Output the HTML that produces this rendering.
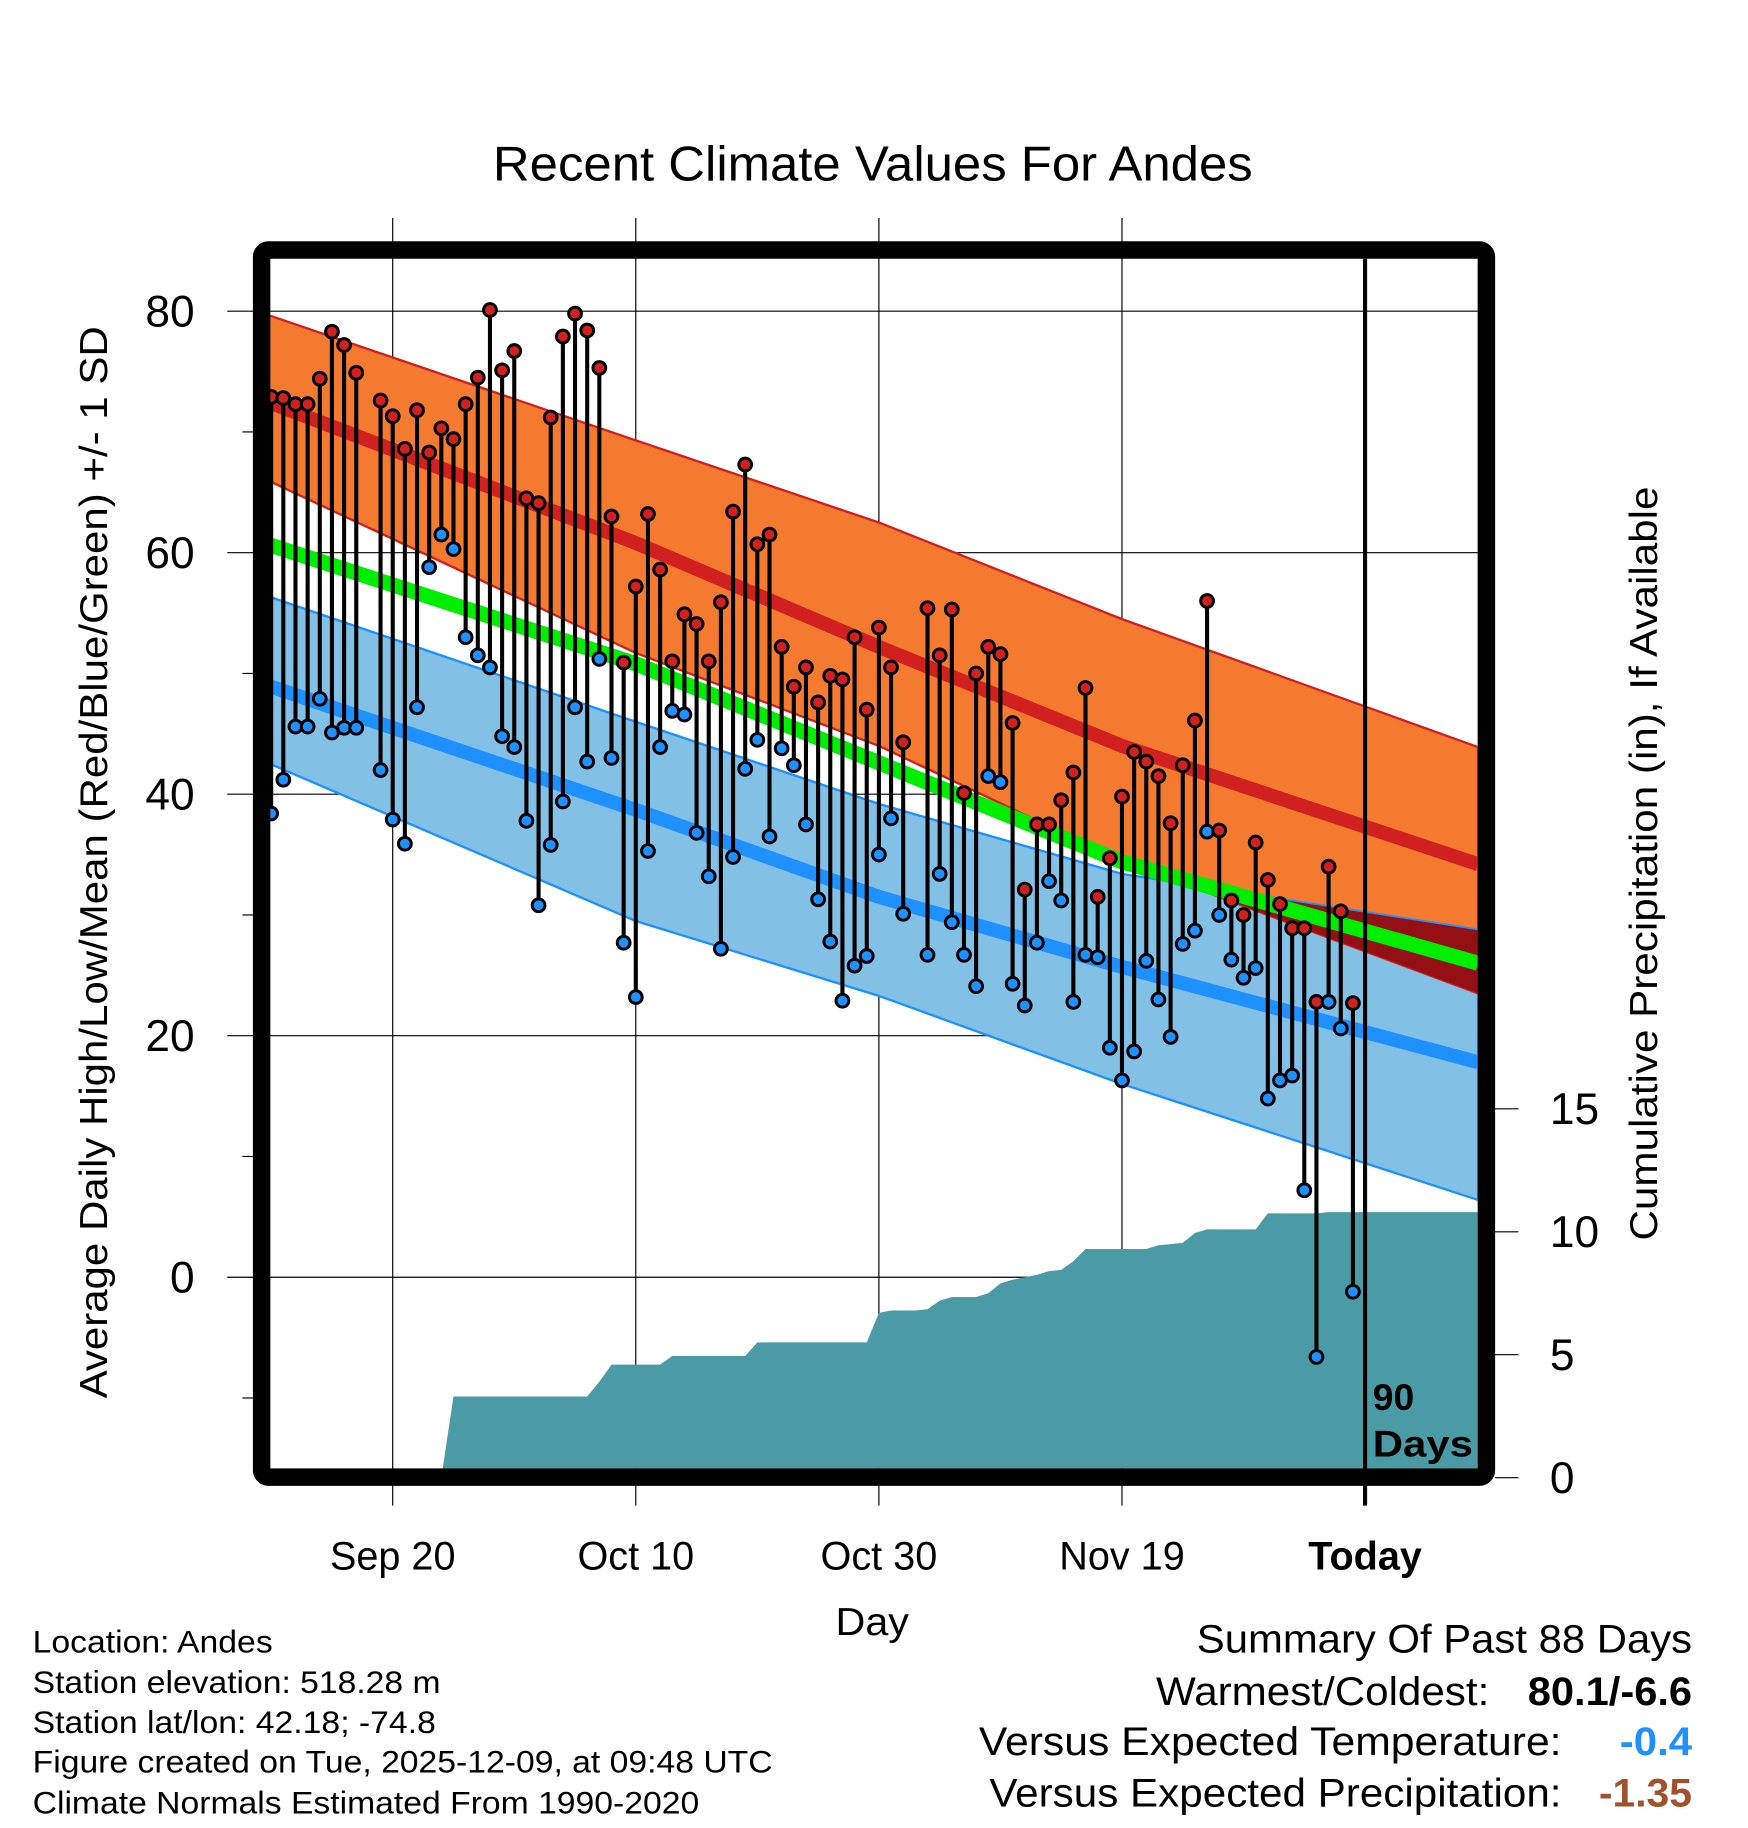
<!DOCTYPE html>
<html><head><meta charset="utf-8"><style>
html,body{margin:0;padding:0;background:#fff;}
svg{display:block;font-family:"Liberation Sans",sans-serif;}
</style></head><body>
<svg id="chart" width="1748" height="1828" viewBox="0 0 1500 1568.6" xmlns="http://www.w3.org/2000/svg">
<defs><clipPath id="plotclip"><rect x="231" y="222" width="1037" height="1038"/></clipPath></defs>
<rect width="1500" height="1569" fill="#fff"/>
<text x="423" y="155" font-size="42" textLength="652" lengthAdjust="spacingAndGlyphs">Recent Climate Values For Andes</text>
<g id="grid"></g>
<g id="plot" clip-path="url(#plotclip)"></g>
<g id="marks"></g>
<rect x="224.5" y="214.5" width="1051" height="1053" rx="6" fill="none" stroke="#000" stroke-width="15"/>
<g id="axes"></g>
<text font-size="32" font-weight="bold" x="1178" y="1210">90</text>
<text font-size="32" font-weight="bold" x="1178" y="1250" textLength="86" lengthAdjust="spacingAndGlyphs">Days</text>
<text font-size="33" text-anchor="middle" textLength="920" lengthAdjust="spacingAndGlyphs" transform="translate(92,740) rotate(-90)">Average Daily High/Low/Mean (Red/Blue/Green) +/- 1 SD</text>
<text font-size="33" text-anchor="middle" textLength="647" lengthAdjust="spacingAndGlyphs" transform="translate(1422,741) rotate(-90)">Cumulative Precipitation (in), If Available</text>
<text font-size="33" x="717" y="1403" textLength="63" lengthAdjust="spacingAndGlyphs">Day</text>
<g font-size="27" lengthAdjust="spacingAndGlyphs">
<text x="28" y="1418" textLength="206" lengthAdjust="spacingAndGlyphs">Location: Andes</text>
<text x="28" y="1453" textLength="350" lengthAdjust="spacingAndGlyphs">Station elevation: 518.28 m</text>
<text x="28" y="1487" textLength="346" lengthAdjust="spacingAndGlyphs">Station lat/lon: 42.18; -74.8</text>
<text x="28" y="1521" textLength="635" lengthAdjust="spacingAndGlyphs">Figure created on Tue, 2025-12-09, at 09:48 UTC</text>
<text x="28" y="1556" textLength="572" lengthAdjust="spacingAndGlyphs">Climate Normals Estimated From 1990-2020</text>
</g>
<g font-size="34">
<text x="1027" y="1418" textLength="425" lengthAdjust="spacingAndGlyphs">Summary Of Past 88 Days</text>
<text x="992" y="1463" textLength="286" lengthAdjust="spacingAndGlyphs">Warmest/Coldest:</text>
<text x="1311" y="1463" font-weight="bold" textLength="141" lengthAdjust="spacingAndGlyphs">80.1/-6.6</text>
<text x="840" y="1506" textLength="500" lengthAdjust="spacingAndGlyphs">Versus Expected Temperature:</text>
<text x="1390" y="1506" font-weight="bold" fill="#1e90ff" textLength="62" lengthAdjust="spacingAndGlyphs">-0.4</text>
<text x="849" y="1550" textLength="491" lengthAdjust="spacingAndGlyphs">Versus Expected Precipitation:</text>
<text x="1372" y="1550" font-weight="bold" fill="#a0522d" textLength="80" lengthAdjust="spacingAndGlyphs">-1.35</text>
</g>
</svg>
<script>
const normDays=[-0.3,30,50,70,99.3];
const orangeTop=[79.7,69.3,62.5,54.5,43.9];
const highMean=[72.5,60.8,52.2,44,34.2];
const orangeBot=[66,51.7,44,34.5,23.5];
const greenMean=[60.7,50.8,42.6,34.4,26];
const blueTop=[56.4,46,39.2,33.4,28.8];
const blueMean=[49,38.7,31.5,25.7,17.8];
const blueBot=[42.6,29.5,23.3,16,6.4];
const highs=[72.9,72.8,72.3,72.3,74.4,78.3,77.2,74.9,null,72.6,71.3,68.6,71.8,68.3,70.3,69.4,72.3,74.5,80.1,75.1,76.7,64.5,64.1,71.2,77.9,79.8,78.4,75.3,63.0,50.9,57.2,63.2,58.6,51.0,54.9,54.1,51.0,55.9,63.4,67.3,60.7,61.5,52.2,48.9,50.5,47.6,49.8,49.5,53.0,47.0,53.8,50.5,44.3,null,55.4,51.5,55.3,40.1,50.0,52.2,51.6,45.9,32.1,37.5,37.5,39.5,41.8,48.8,31.5,34.7,39.8,43.5,42.7,41.5,37.6,42.4,46.1,56.0,37.0,31.2,30.0,36.0,32.9,30.9,28.9,28.9,22.8,34.0,30.3,22.7];
const lows=[38.4,41.2,45.6,45.6,47.9,45.1,45.5,45.5,null,42.0,37.9,35.9,47.2,58.8,61.5,60.3,53.0,51.5,50.5,44.8,43.9,37.8,30.8,35.8,39.4,47.2,42.7,51.2,43.0,27.7,23.2,35.3,43.9,46.9,46.6,36.8,33.2,27.2,34.8,42.1,44.5,36.5,43.8,42.4,37.5,31.3,27.8,22.9,25.8,26.6,35.0,38.0,30.1,null,26.7,33.4,29.4,26.7,24.1,41.5,41.0,24.3,22.5,27.7,32.8,31.2,22.8,26.7,26.5,19.0,16.3,18.7,26.2,23.0,19.9,27.6,28.7,36.9,30.0,26.3,24.8,25.6,14.8,16.3,16.7,7.2,-6.6,22.8,20.6,-1.2];
const precip=[0,0,0,0,0,0,0,0,0,0,0,0,0,0,0,3.3,3.3,3.3,3.3,3.3,3.3,3.3,3.3,3.3,3.3,3.3,3.3,3.9,4.6,4.6,4.6,4.6,4.6,4.95,4.95,4.95,4.95,4.95,4.95,4.95,5.5,5.5,5.5,5.5,5.5,5.5,5.5,5.5,5.5,5.5,6.7,6.8,6.8,6.8,6.85,7.2,7.35,7.35,7.35,7.5,7.9,8.05,8.15,8.25,8.4,8.45,8.8,9.3,9.3,9.3,9.3,9.3,9.3,9.45,9.5,9.55,9.95,10.1,10.1,10.1,10.1,10.1,10.75,10.75,10.75,10.75,10.75,10.8,10.8,10.8];
const yTicks=[80,60,40,20,0];
const yMinor=[70,50,30,10,-10];
const y2Ticks=[0,5,10,15];
const xTickDays=[10,30,50,70,90];
const xTickLabels=["Sep 20","Oct 10","Oct 30","Nov 19","Today"];

const NS="http://www.w3.org/2000/svg";
const X=d=>232.7+10.43*d;
const Y=v=>1096-v*10.3625;
const Y2=p=>1268-p*21.1;
function mk(tag,attrs,parent){const e=document.createElementNS(NS,tag);for(const k in attrs)e.setAttribute(k,attrs[k]);parent.appendChild(e);return e;}
const grid=document.getElementById('grid'),plot=document.getElementById('plot'),marks=document.getElementById('marks'),axes=document.getElementById('axes');

function bandPts(top,bot){let p=normDays.map((d,i)=>X(d)+','+Y(top[i]));for(let i=normDays.length-1;i>=0;i--)p.push(X(normDays[i])+','+Y(bot[i]));return p.join(' ');}
function linePts(arr){return normDays.map((d,i)=>X(d)+','+Y(arr[i])).join(' ');}

yTicks.forEach(v=>{const l=mk('line',{x1:195,x2:1268,y1:Y(v),y2:Y(v),stroke:'#000','stroke-width':1},grid);

});
xTickDays.forEach((d,i)=>{if(i===4)return;const l=mk('line',{x1:X(d),x2:X(d),y1:187,y2:1292,stroke:'#000','stroke-width':1},grid);

});

const bb=mk('polygon',{points:bandPts(blueTop,blueBot),fill:'#83c0e6',stroke:'#1e90ff','stroke-width':2},plot);


const ob=mk('polygon',{points:bandPts(orangeTop,orangeBot),fill:'#f47a30',stroke:'#d02020','stroke-width':2},plot);


const cp=mk('clipPath',{id:'blueclip'},plot);
mk('polygon',{points:bandPts(blueTop,blueBot)},cp);
const ov=mk('polygon',{points:bandPts(orangeTop,orangeBot),fill:'#951015','clip-path':'url(#blueclip)'},plot);


const btl=mk('polyline',{points:linePts(blueTop),fill:'none',stroke:'#1e90ff','stroke-width':1.5},plot);


const gm=mk('polyline',{points:linePts(greenMean),fill:'none',stroke:'#00ee00','stroke-width':13},plot);


const hm=mk('polyline',{points:linePts(highMean),fill:'none',stroke:'#d02020','stroke-width':12},plot);


const bm=mk('polyline',{points:linePts(blueMean),fill:'none',stroke:'#1e90ff','stroke-width':12},plot);



let pp=[X(0)-3+','+1262];
precip.forEach((p,i)=>pp.push(X(i)+','+Y2(p)));
pp.push('1270,'+Y2(precip[precip.length-1]));pp.push('1270,1262');
const pa=mk('polygon',{points:pp.join(' '),fill:'#4a9ba5'},plot);



const tl=mk('line',{x1:X(90),x2:X(90),y1:222,y2:1292,stroke:'#000','stroke-width':3.5},marks);



highs.forEach((h,i)=>{const l=lows[i];if(h===null||l===null)return;
const g=mk('g',{},marks);


mk('line',{x1:X(i),x2:X(i),y1:Y(h),y2:Y(l),stroke:'#000','stroke-width':3.5},g);
const c1=mk('circle',{cx:X(i),cy:Y(h),r:5.5,fill:'#d02020',stroke:'#000','stroke-width':2.5},g);


const c2=mk('circle',{cx:X(i),cy:Y(l),r:5.5,fill:'#1e90ff',stroke:'#000','stroke-width':2.5},g);


});

yTicks.forEach(v=>{const t=mk('text',{x:167,y:Y(v)+13,'font-size':38,'text-anchor':'end'},axes);t.textContent=v;

});
yMinor.forEach(v=>{mk('line',{x1:208,x2:217,y1:Y(v),y2:Y(v),stroke:'#000','stroke-width':1},axes);});
y2Ticks.forEach(v=>{mk('line',{x1:1283,x2:1303,y1:Y2(v),y2:Y2(v),stroke:'#000','stroke-width':1},axes);
const t=mk('text',{x:1330,y:Y2(v)+13,'font-size':38},axes);t.textContent=v;

});
xTickDays.forEach((d,i)=>{const t=mk('text',{x:X(d),y:1347,'font-size':34,'text-anchor':'middle','font-weight':i===4?'bold':'normal'},axes);t.textContent=xTickLabels[i];

});
</script>
</body></html>
